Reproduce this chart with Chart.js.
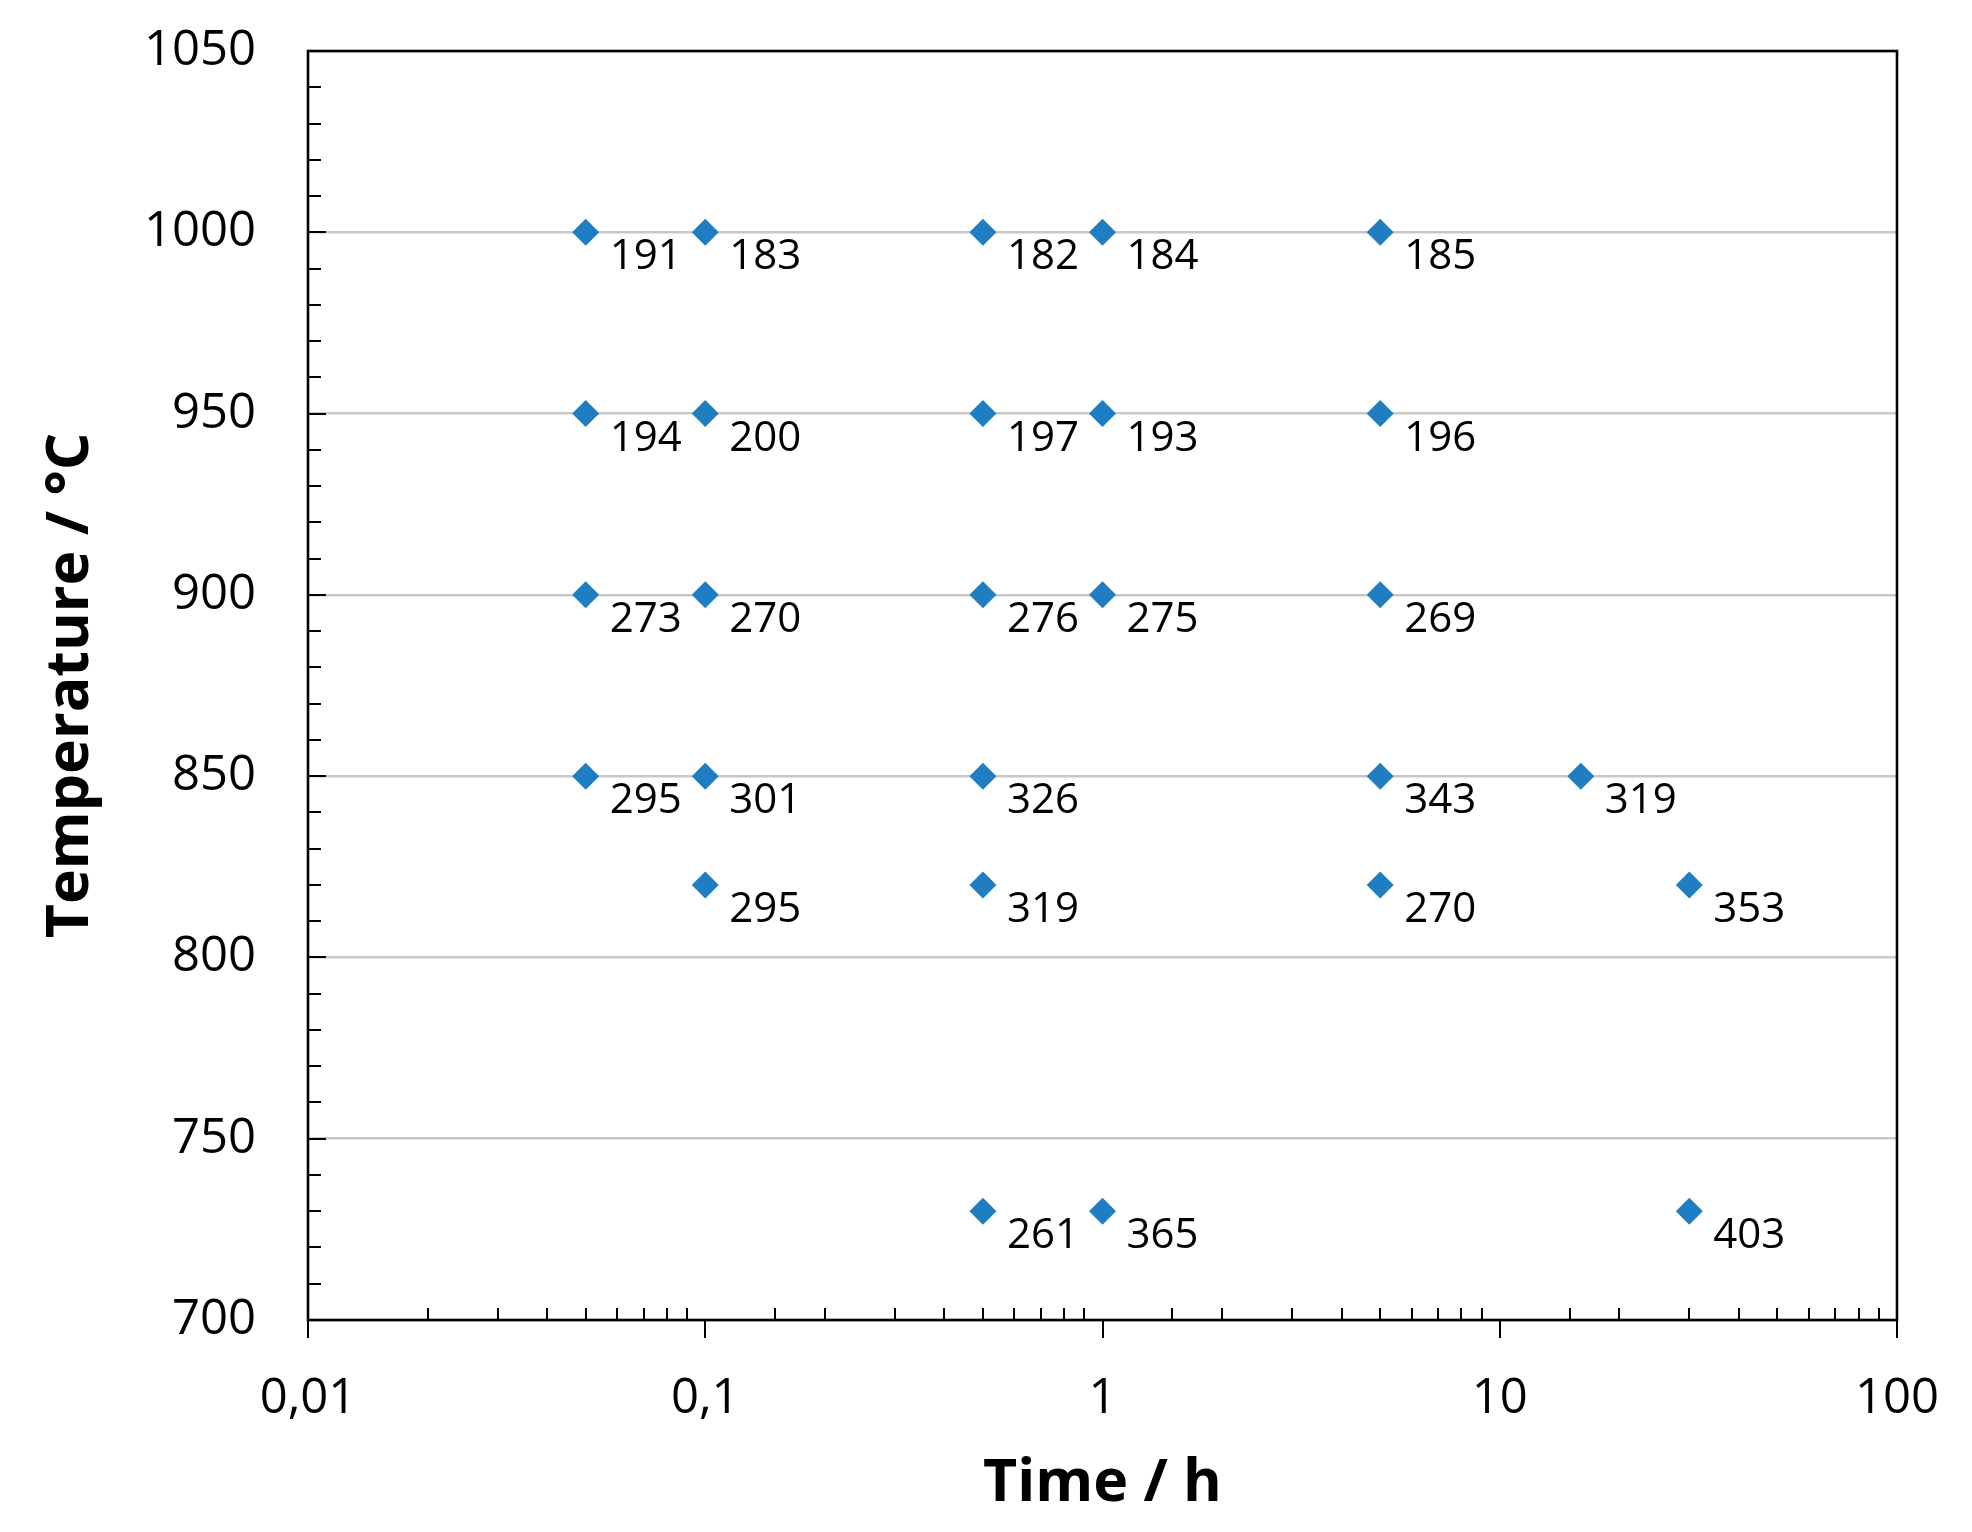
<!DOCTYPE html>
<html>
<head>
<meta charset="utf-8">
<script src="https://cdn.jsdelivr.net/npm/chart.js@4"></script>
<style>
  html, body { margin: 0; padding: 0; background: #ffffff; }
  #wrap { width: 1972px; height: 1532px; }
</style>
</head>
<body>
<div id="wrap"><canvas id="c" width="1972" height="1532"></canvas></div>
<script>
// ---- data ----
const timesH      = [0.05, 0.1, 0.5, 1, 5,   0.05, 0.1, 0.5, 1, 5,   0.05, 0.1, 0.5, 1, 5,   0.05, 0.1, 0.5, 5, 16,   0.1, 0.5, 5, 30,   0.5, 1, 30];
const temperatures= [1000, 1000, 1000, 1000, 1000,   950, 950, 950, 950, 950,   900, 900, 900, 900, 900,   850, 850, 850, 850, 850,   820, 820, 820, 820,   730, 730, 730];
const hardness    = [191, 183, 182, 184, 185,   194, 200, 197, 193, 196,   273, 270, 276, 275, 269,   295, 301, 326, 343, 319,   295, 319, 270, 353,   261, 365, 403];

const xTickValues = [0.01, 0.1, 1, 10, 100];
const xTickLabels = ['0,01', '0,1', '1', '10', '100'];
const yMajorStep = 50;
const yMinorStep = 10;

const FONT = "'Open Sans', 'Noto Sans', sans-serif";
const POINT_COLOR = '#1F7EC1';

const points = timesH.map((t, i) => ({ x: t, y: temperatures[i] }));

function isDecade(v) {
  const l = Math.log10(v);
  return Math.abs(l - Math.round(l)) < 1e-6;
}

const framePlugin = {
  id: 'frameTicksLabels',
  afterDraw(chart) {
    const ctx = chart.ctx;
    const a = chart.chartArea;
    const xs = chart.scales.x, ys = chart.scales.y;
    ctx.save();
    // tick marks
    ctx.strokeStyle = '#000';
    ctx.lineWidth = 2;
    ctx.beginPath();
    xs.ticks.forEach(t => {
      const px = Math.round(xs.getPixelForValue(t.value));
      if (isDecade(t.value)) {
        ctx.moveTo(px, a.bottom);
        ctx.lineTo(px, a.bottom + 18);
      } else {
        ctx.moveTo(px, a.bottom);
        ctx.lineTo(px, a.bottom - 12);
      }
    });
    ys.ticks.forEach(t => {
      const py = Math.round(ys.getPixelForValue(t.value));
      const len = (t.value % yMajorStep === 0) ? 18 : 13;
      ctx.moveTo(a.left, py);
      ctx.lineTo(a.left + len, py);
    });
    ctx.stroke();
    // frame
    ctx.lineWidth = 2.6;
    ctx.strokeRect(a.left, a.top, a.right - a.left, a.bottom - a.top);
    ctx.restore();

    // data labels
    const meta = chart.getDatasetMeta(0);
    ctx.save();
    ctx.fillStyle = '#000';
    ctx.font = '42px ' + FONT;
    ctx.textAlign = 'left';
    ctx.textBaseline = 'alphabetic';
    meta.data.forEach((el, i) => {
      ctx.fillText(String(hardness[i]), el.x + 24, el.y + 37);
    });
    ctx.restore();
  }
};

new Chart(document.getElementById('c'), {
  type: 'scatter',
  data: {
    datasets: [{
      data: points,
      pointStyle: 'rectRot',
      pointRadius: 13.5,
      pointHoverRadius: 13.5,
      backgroundColor: POINT_COLOR,
      borderColor: POINT_COLOR,
      borderWidth: 0
    }]
  },
  options: {
    responsive: false,
    animation: false,
    devicePixelRatio: 1,
    layout: { padding: { top: 51, right: 75, left: 0, bottom: 0 } },
    plugins: { legend: { display: false }, tooltip: { enabled: false } },
    scales: {
      x: {
        type: 'logarithmic',
        min: 0.01,
        max: 100,
        afterFit(s) { s.height = 212; s.paddingLeft = 0; s.paddingRight = 0; },
        grid: { display: false, drawTicks: false },
        border: { display: false },
        ticks: {
          autoSkip: false,
          maxRotation: 0,
          padding: 50,
          color: '#000',
          font: { family: FONT, size: 49 },
          callback(v) {
            if (!isDecade(v)) return '';
            const idx = xTickValues.findIndex(tv => Math.abs(Math.log10(tv) - Math.log10(v)) < 1e-6);
            return idx >= 0 ? xTickLabels[idx] : '';
          }
        },
        title: {
          display: true,
          text: 'Time / h',
          color: '#000',
          font: { family: FONT, size: 59, weight: 'bold' },
          padding: { top: 0, bottom: 12 }
        }
      },
      y: {
        type: 'linear',
        min: 700,
        max: 1050,
        afterFit(s) { s.width = 308; s.paddingTop = 0; s.paddingBottom = 0; },
        grid: {
          drawTicks: false,
          lineWidth: 2.5,
          color(c) { return (c.tick && c.tick.value % yMajorStep === 0) ? '#C8C8C8' : 'rgba(0,0,0,0)'; }
        },
        border: { display: false },
        ticks: {
          stepSize: yMinorStep,
          autoSkip: false,
          padding: 52,
          color: '#000',
          font: { family: FONT, size: 49 },
          callback(v) { return (v % yMajorStep === 0) ? String(v) : ''; }
        },
        title: {
          display: true,
          text: 'Temperature / °C',
          color: '#000',
          font: { family: FONT, size: 59, weight: 'bold' },
          padding: { top: 36, bottom: 0 }
        }
      }
    }
  },
  plugins: [framePlugin]
});
</script>
</body>
</html>
